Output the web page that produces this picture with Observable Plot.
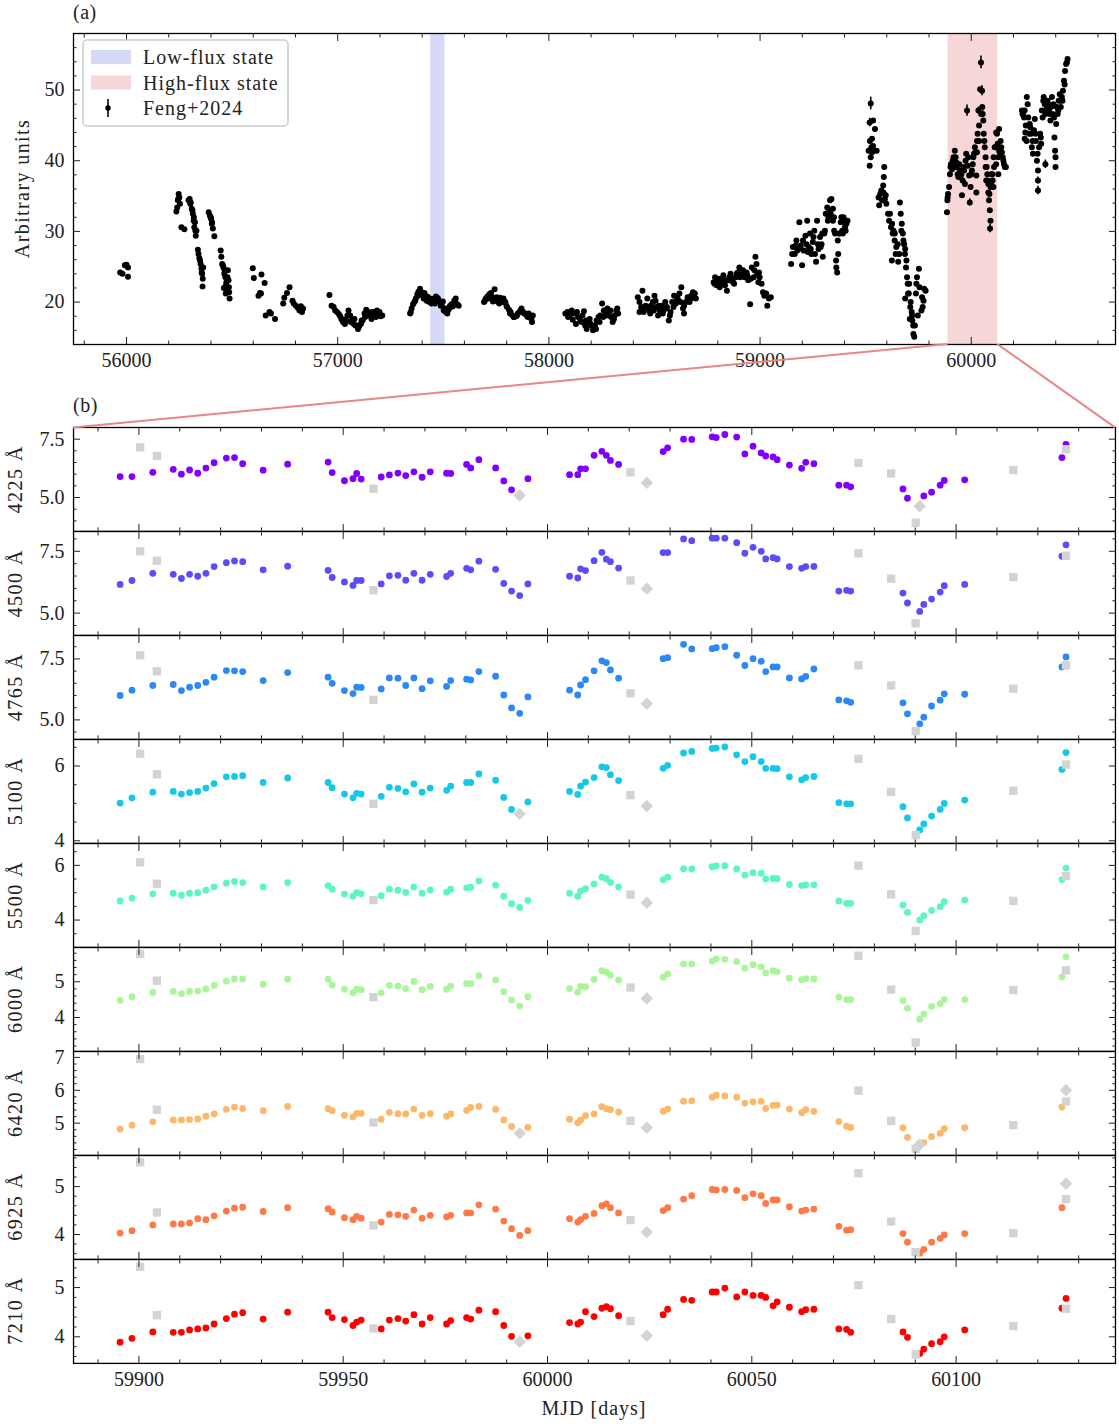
<!DOCTYPE html>
<html><head><meta charset="utf-8">
<script src="https://cdn.jsdelivr.net/npm/d3@7"></script>
<script src="https://cdn.jsdelivr.net/npm/@observablehq/plot@0.6"></script>
<style>
body{margin:0;background:#fff;}
#fig{position:relative;width:1119px;height:1424px;overflow:hidden;font-family:"Liberation Serif","DejaVu Serif",serif;}
#fig svg{position:absolute;left:0;overflow:visible;}
</style></head><body><div id="fig"></div>
<script>
// ---------------- Panel (a) data: Feng+2024 light curve [MJD, flux] ----------------
const feng = [
[55970,24.2],[55981,24.0],[55992,25.2],[56000,25.3],[56007,24.9],[56007,23.6],
[56236,32.8],[56240,33.4],[56243,34.4],[56245,34.6],[56247,35.3],[56250,34.8],[56253,33.9],[56260,30.6],[56274,30.3],
[56294,34.4],[56299,34.6],[56302,33.9],[56304,34.1],[56309,33.2],[56312,33.0],[56314,32.5],[56318,31.5],[56319,32.0],[56321,30.6],[56324,31.3],[56326,30.1],[56328,29.4],[56331,30.1],
[56338,27.4],[56341,26.8],[56345,26.2],[56348,25.9],[56351,25.4],[56355,24.7],[56356,24.2],[56358,24.0],[56360,22.2],[56361,23.3],[56363,24.9],
[56389,32.7],[56395,32.2],[56399,32.0],[56400,31.8],[56404,31.1],[56405,31.3],[56409,30.4],[56416,29.3],
[56446,27.3],[56449,26.4],[56453,25.4],[56456,25.2],[56459,24.9],[56461,22.0],[56463,24.0],[56465,24.5],[56468,23.5],[56470,21.2],[56471,22.4],[56473,22.8],[56475,21.6],[56478,23.5],[56480,24.5],[56483,23.1],[56485,22.1],[56486,21.4],[56488,20.5],
[56598,24.8],[56603,23.4],[56625,20.9],[56632,21.3],[56637,21.2],[56639,23.9],[56654,22.7],[56659,18.1],[56677,18.6],[56684,18.4],[56703,17.6],
[56742,19.8],[56747,20.6],[56760,21.3],[56772,22.1],[56786,20.2],[56792,19.8],[56802,19.5],[56811,19.2],[56819,18.8],[56826,19.4],[56831,18.6],[56836,19.1],
[56961,21.0],[56971,19.5],[56981,19.3],[56988,18.8],[56997,18.6],[57005,18.3],[57012,18.0],[57017,17.6],[57025,17.2],[57029,17.5],[57034,16.9],[57042,17.4],[57046,18.1],[57051,18.8],[57059,18.1],[57062,17.2],[57068,17.4],[57076,16.9],[57079,17.6],[57084,16.7],[57093,16.7],[57096,16.2],[57101,16.5],[57110,16.9],[57113,17.4],[57118,17.4],[57127,18.4],[57130,17.9],[57135,18.9],[57144,18.6],[57147,18.1],[57152,18.1],[57160,17.6],[57164,18.6],[57169,18.1],[57177,18.6],[57181,17.9],[57186,18.8],[57194,18.4],[57198,18.6],[57203,18.0],[57211,18.1],
[57343,18.4],[57346,18.6],[57350,19.1],[57357,19.7],[57363,20.0],[57367,20.2],[57370,20.5],[57377,21.1],[57380,20.9],[57383,21.5],[57390,21.9],[57394,21.2],[57397,21.4],[57404,20.9],[57407,20.5],[57411,21.3],[57417,20.6],[57421,20.2],[57424,20.8],[57431,20.2],[57434,20.0],[57438,20.5],[57444,19.8],[57448,20.2],[57451,20.0],[57458,20.5],[57461,19.8],[57465,20.8],[57471,20.6],[57475,20.5],[57478,20.2],[57485,20.0],[57488,19.5],[57492,19.7],[57498,20.1],[57502,18.8],[57505,19.1],[57512,18.6],[57515,19.1],[57519,18.4],[57525,18.9],[57532,19.5],[57535,19.3],[57539,19.7],[57546,19.4],[57552,20.2],[57556,20.0],[57559,20.5],[57566,19.7],[57573,19.5],
[57693,20.0],[57697,20.2],[57701,20.5],[57709,20.8],[57714,20.5],[57718,21.1],[57726,21.3],[57731,20.7],[57735,20.1],[57743,21.8],[57748,20.2],[57752,20.7],[57760,20.0],[57765,19.8],[57769,20.6],[57777,20.2],[57782,20.0],[57785,20.5],[57794,20.0],[57799,19.5],[57802,19.3],[57811,18.9],[57816,18.4],[57819,18.6],[57828,18.1],[57833,17.9],[57836,17.9],[57844,18.0],[57849,18.1],[57853,18.4],[57861,18.6],[57866,18.8],[57870,19.1],[57878,18.6],[57883,18.4],[57887,18.4],[57895,18.1],[57900,17.9],[57904,18.4],[57912,17.9],[57917,17.6],[57920,17.2],[57924,18.1],
[58078,18.4],[58088,18.6],[58091,17.9],[58098,18.1],[58108,18.8],[58113,17.5],[58118,18.4],[58128,16.9],[58133,18.6],[58138,17.9],[58149,17.4],[58155,17.2],[58159,18.1],[58166,18.7],[58172,16.7],[58176,17.4],[58179,16.2],[58186,17.2],[58193,17.6],[58198,16.9],[58201,16.7],[58209,16.0],[58218,16.7],[58223,16.2],[58226,17.4],[58235,17.9],[58240,17.2],[58243,18.1],[58252,19.8],[58257,17.9],[58260,18.8],[58269,18.4],[58274,18.1],[58277,19.1],[58285,18.6],[58291,18.8],[58294,17.9],[58302,17.2],[58308,17.6],[58311,18.1],[58319,18.8],[58324,19.1],[58328,18.4],
[58421,20.7],[58429,20.0],[58429,18.6],[58437,19.3],[58443,21.6],[58446,19.1],[58449,18.6],[58458,19.5],[58463,19.3],[58466,20.5],[58475,18.8],[58480,18.4],[58483,19.5],[58492,20.0],[58497,18.8],[58500,20.9],[58505,20.2],[58508,19.3],[58517,18.1],[58522,19.5],[58525,18.8],[58534,19.5],[58539,18.4],[58542,18.8],[58551,20.0],[58556,19.1],[58559,19.3],[58568,17.4],[58573,18.1],[58576,18.6],[58584,20.0],[58590,19.3],[58593,20.9],[58601,19.8],[58606,20.2],[58610,20.5],[58618,21.2],[58623,20.0],[58627,22.1],[58635,19.1],[58640,18.4],[58640,19.5],[58649,20.0],[58657,20.7],[58657,20.2],[58666,20.0],[58674,20.9],[58674,20.5],[58682,21.4],[58686,20.7],[58691,21.2],[58696,20.5],
[58780,22.8],[58784,22.6],[58787,23.5],[58794,22.4],[58801,22.8],[58804,23.3],[58809,22.1],[58818,23.1],[58821,22.6],[58826,23.8],[58834,22.4],[58838,23.1],[58843,21.6],[58851,23.1],[58855,23.5],[58860,24.0],[58868,23.3],[58872,22.8],[58877,22.6],[58885,23.5],[58889,24.0],[58894,24.2],[58902,24.9],[58905,23.5],[58910,23.8],[58919,24.5],[58922,24.0],[58927,23.5],[58936,24.2],[58939,23.8],[58944,23.1],[58953,19.7],[58956,23.3],[58961,24.9],[58970,23.5],[58973,24.5],[58978,26.4],[58983,25.4],[58986,24.0],[58992,22.8],[58995,24.2],[58998,23.5],[59007,22.6],[59014,21.4],[59020,20.9],[59029,21.2],[59034,19.5],[59042,20.5],[59051,20.7],
[59147,25.4],[59152,26.8],[59155,27.8],[59164,26.8],[59169,28.0],[59172,28.7],[59176,27.3],[59181,27.5],[59186,31.3],[59189,27.8],[59193,28.0],[59199,25.2],[59203,28.7],[59206,27.3],[59215,29.4],[59220,28.2],[59223,31.5],[59226,27.1],[59230,27.8],[59236,29.7],[59240,27.5],[59243,26.8],[59250,28.5],[59253,29.2],[59257,30.1],[59260,26.8],[59265,25.7],[59270,31.5],[59274,28.2],[59277,27.5],[59284,29.2],[59287,27.8],[59291,28.2],[59294,29.7],[59297,26.4],[59304,29.7],[59307,30.1],[59311,32.5],[59318,33.4],[59321,31.5],[59324,32.0],[59328,33.0],[59331,34.4],[59334,32.5],[59338,34.6],[59345,33.2],[59345,31.5],[59350,32.0],[59351,30.1],[59355,29.7],[59360,25.9],[59361,24.9],[59365,24.2],[59368,28.7],[59370,26.8],[59375,29.7],[59378,29.7],[59382,31.3],[59385,32.0],[59389,30.1],[59392,29.7],[59395,32.0],[59399,31.3],[59402,30.6],[59405,30.1],[59409,31.1],[59414,31.5],
[59514,41.4],[59519,45.4],[59519,39.3],[59520,42.8],[59524,48.1],[59524,40.5],[59527,41.9],[59530,43.1],[59530,41.2],[59535,45.7],[59535,42.1],[59537,41.4],[59544,44.5],[59552,41.4],
[59561,34.8],[59564,33.7],[59569,35.3],[59574,35.8],[59578,34.4],[59583,36.5],[59584,35.5],[59586,37.7],[59588,39.1],[59591,34.6],[59595,35.1],[59598,33.9],[59606,32.5],[59611,31.5],[59615,32.5],[59620,30.6],[59624,25.9],[59625,31.1],[59628,29.7],[59632,30.1],[59637,28.7],[59638,29.7],[59642,26.8],[59645,27.8],[59652,28.2],[59654,25.7],[59659,26.8],[59662,34.1],[59666,32.5],[59669,30.1],[59671,31.1],[59676,29.7],[59679,28.7],[59682,28.2],[59686,26.8],[59687,27.5],[59687,20.5],[59691,24.9],[59693,25.9],[59696,23.5],[59699,22.6],[59701,21.2],[59704,21.2],[59706,22.6],[59709,17.6],[59711,19.3],[59713,20.0],[59718,18.6],[59720,18.1],[59721,17.4],[59725,16.7],[59726,15.5],[59730,15.1],[59733,16.7],[59738,21.2],[59740,22.6],[59743,23.5],[59747,18.1],[59752,24.7],[59755,22.1],[59764,18.8],[59767,20.7],[59770,19.3],[59774,20.2],[59777,21.9],[59784,21.6],
[59885,32.7],[59887,34.4],[59888,34.8],[59890,35.3],[59895,36.3],[59899,38.1],[59902,39.1],[59904,39.5],[59909,38.8],[59912,40.0],[59916,40.5],[59919,39.1],[59922,41.4],[59926,40.5],[59929,39.8],[59932,39.1],[59936,38.1],[59939,37.7],[59943,39.5],[59946,38.6],[59949,37.7],[59953,38.1],[59956,35.1],[59959,37.2],[59963,39.1],[59966,38.6],[59970,36.7],[59973,40.0],[59976,41.0],[59980,47.1],[59983,39.3],[59986,40.5],[59990,37.9],[59993,34.1],[59997,36.3],[60000,38.1],[60003,38.6],[60007,39.5],[60010,40.5],[60013,41.0],[60017,41.9],[60020,41.2],[60024,37.9],[60024,35.5],[60027,41.2],[60027,42.8],[60030,43.8],[60034,47.1],[60037,45.0],[60037,42.8],[60042,50.1],[60046,53.9],[60047,46.6],[60051,49.9],[60052,47.6],[60054,46.6],[60057,45.7],[60059,43.8],[60062,42.8],[60064,41.9],[60068,40.5],[60068,39.1],[60071,37.2],[60073,39.1],[60076,38.1],[60078,37.2],[60081,35.5],[60081,36.7],[60084,34.4],[60086,35.3],[60088,33.0],[60089,30.4],[60091,31.5],[60091,36.3],[60095,37.0],[60096,38.1],[60100,38.1],[60101,37.2],[60105,36.3],[60106,40.5],[60108,39.1],[60111,41.9],[60115,41.9],[60118,44.0],[60118,39.5],[60122,43.8],[60125,42.4],[60128,40.5],[60128,38.1],[60132,44.5],[60132,41.4],[60135,41.2],[60139,42.8],[60142,41.9],[60145,41.2],[60149,40.5],[60152,40.0],[60155,39.5],[60159,39.1],[60164,39.1],
[60240,47.1],[60243,46.6],[60247,46.4],[60250,46.1],[60253,47.1],[60253,43.1],[60256,44.0],[60258,45.0],[60262,42.8],[60263,49.0],[60267,48.0],[60270,46.1],[60274,43.8],[60277,45.2],[60280,44.7],[60284,43.8],[60287,41.9],[60290,42.8],[60292,41.0],[60297,44.3],[60301,45.9],[60304,43.8],[60306,42.8],[60311,40.0],[60314,41.0],[60316,38.6],[60316,37.2],[60316,35.8],[60321,41.9],[60326,43.8],[60329,43.3],[60331,42.4],[60334,47.1],[60338,46.1],[60341,48.5],[60343,49.0],[60348,48.0],[60351,39.5],[60351,46.6],[60355,47.1],[60358,47.6],[60361,48.5],[60365,48.0],[60368,47.1],[60372,46.6],[60375,45.7],[60378,47.6],[60382,49.0],[60385,46.6],[60389,48.0],[60392,46.1],[60394,43.3],[60397,41.4],[60399,39.1],[60399,40.5],[60402,45.2],[60405,47.6],[60409,46.6],[60412,47.1],[60414,48.5],[60419,49.4],[60422,48.5],[60424,47.6],[60429,49.0],[60432,48.5],[60434,49.9],[60439,51.3],[60442,50.8],[60444,52.7],[60449,53.7],[60453,53.9],[60456,54.4]
];
// points with visible error bars [MJD, flux, error]
const fengErr = [[59524,48.1,0.9],[59519,45.4,0.6],[59980,47.1,0.8],[60046,53.9,0.9],[60051,49.9,0.7],[60054,46.6,0.5],[60034,47.1,0.5],[59970,36.7,0.5],[59993,34.1,0.5],[60089,30.4,0.6],[60316,35.8,0.6],[60316,37.2,0.5],[60351,39.5,0.6]];
const lowFlux = [57440, 57508];
const highFlux = [59890, 60125];

// ---------------- Panel (b) data ----------------
const mjd = [59895.4,59898.3,59903.4,59908.4,59910.4,59912.4,59914.4,59916.4,59918.4,59921.4,
59923.4,59925.4,59930.4,59936.4,59946.3,59947.3,59950.3,59952.4,59953.3,59954.4,
59959.3,59961.3,59963.4,59965.3,59967.3,59969.3,59971.3,59975.3,59976.3,59980.2,
59981.2,59983.2,59987.3,59989.3,59991.2,59993.2,59995.2,60005.4,60007.4,60008.1,
60009.3,60011.4,60013.3,60014.4,60015.4,60017.4,60028.3,60029.4,60033.3,60035.3,
60040.3,60041.3,60043.4,60046.3,60048.3,60050.3,60052.3,60053.4,60055.2,60056.2,
60059.2,60062.2,60063.2,60065.2,60071.3,60073.2,60074.2,60087.0,60088.1,60091.1,
60092.1,60094.0,60096.1,60097.1,60102.1,60125.9,60126.9];
const f4225 = [5.90,5.90,6.08,6.21,6.00,6.18,6.04,6.26,6.49,6.69,
6.71,6.45,6.17,6.43,6.52,6.07,5.72,5.81,6.03,5.79,
5.88,5.97,6.05,5.94,6.10,5.87,6.10,6.04,6.03,6.42,
6.27,6.62,6.27,5.71,5.33,null,5.81,5.98,5.98,6.23,
6.23,6.81,6.98,6.81,6.59,6.42,6.97,7.13,7.50,7.49,
7.60,7.57,7.70,7.59,6.87,7.20,6.91,6.78,6.74,6.62,
6.39,6.25,6.51,6.45,5.53,5.53,5.46,5.37,4.97,null,
5.07,5.23,5.53,5.73,5.76,6.71,7.28];
const f4500 = [6.16,6.32,6.61,6.57,6.40,6.57,6.49,6.61,6.88,7.04,
7.11,7.08,6.75,6.90,6.73,6.44,6.26,6.12,6.32,6.32,
6.18,6.51,6.53,6.33,6.61,6.33,6.57,6.48,6.61,6.81,
6.75,7.10,6.77,6.20,5.89,5.71,6.18,6.49,6.42,6.79,
6.72,7.12,7.46,7.18,7.08,6.82,7.45,7.45,8.00,7.93,
8.03,8.03,8.03,7.85,7.42,7.66,7.50,7.19,7.24,7.19,
6.88,6.81,6.88,6.89,5.89,5.92,5.89,5.81,5.41,5.07,
5.35,5.57,5.85,6.11,6.16,7.30,7.76];
const f4765 = [6.00,6.22,6.41,6.45,6.20,6.34,6.41,6.54,6.75,7.02,
7.01,6.98,6.61,6.94,6.75,6.50,6.20,6.08,6.34,6.33,
6.27,6.72,6.71,6.41,6.72,6.28,6.60,6.37,6.61,6.67,
6.64,6.98,6.79,6.02,5.49,5.27,5.94,6.22,6.02,6.43,
6.65,7.01,7.42,7.35,7.05,6.71,7.51,7.55,8.10,7.91,
7.92,7.96,8.00,7.65,7.23,7.51,7.40,6.98,7.17,7.17,
6.72,6.68,6.78,7.09,5.82,5.78,5.72,5.70,5.25,4.84,
5.11,5.57,5.81,6.07,6.05,7.17,7.58];
const f5100 = [5.01,5.15,5.30,5.32,5.25,5.29,5.32,5.41,5.53,5.71,
5.72,5.74,5.56,5.68,5.56,5.42,5.25,5.15,5.27,5.25,
5.19,5.43,5.40,5.31,5.52,5.30,5.41,5.35,5.46,5.56,
5.56,5.79,5.62,5.16,4.84,null,5.04,5.32,5.24,5.46,
5.57,5.69,5.98,5.96,5.77,5.61,5.94,6.02,6.35,6.39,
6.47,6.48,6.51,6.30,6.12,6.25,6.12,5.94,5.94,5.93,
5.71,5.63,5.69,5.72,5.02,4.99,4.99,4.91,4.61,4.29,
4.45,4.66,4.84,5.00,5.09,5.91,6.36];
const f5500 = [4.70,4.80,4.96,4.98,4.91,4.98,5.00,5.09,5.21,5.35,
5.41,5.37,5.21,5.37,5.26,5.13,4.95,4.87,5.00,4.96,
4.89,5.13,5.09,5.01,5.21,4.98,5.10,5.02,5.13,5.18,
5.20,5.43,5.28,4.87,4.60,4.46,4.72,4.98,4.87,5.06,
5.15,5.32,5.57,5.51,5.38,5.21,5.48,5.57,5.88,5.87,
5.95,5.98,5.99,5.87,5.65,5.73,5.71,5.50,5.52,5.51,
5.30,5.26,5.29,5.29,4.70,4.61,4.61,4.55,4.28,4.00,
4.16,4.35,4.49,4.67,4.73,5.48,5.90];
const f6000 = [4.48,4.58,4.70,4.73,4.67,4.73,4.74,4.80,4.90,5.02,
5.08,5.08,4.93,5.07,5.07,4.91,4.79,4.69,4.79,4.78,
4.69,4.90,4.88,4.81,5.01,4.78,4.87,4.79,4.88,4.95,
4.95,5.17,5.05,4.72,4.49,4.32,4.58,4.81,4.71,4.87,
4.86,5.07,5.31,5.27,5.18,5.05,5.13,5.22,5.50,5.50,
5.58,5.64,5.63,5.57,5.38,5.48,5.42,5.25,5.31,5.28,
5.10,5.06,5.09,5.08,4.57,4.50,4.50,4.47,4.26,3.95,
4.10,4.31,4.39,4.50,4.50,5.14,5.70];
const f6420 = [4.82,4.94,5.04,5.10,5.10,5.11,5.13,5.21,5.28,5.42,
5.49,5.45,5.38,5.51,5.44,5.38,5.24,5.19,5.30,5.30,
5.12,5.33,5.29,5.28,5.43,5.24,5.29,5.21,5.28,5.39,
5.48,5.51,5.42,5.10,4.90,null,4.87,5.12,5.01,5.09,
5.23,5.28,5.50,5.44,5.41,5.34,5.36,5.43,5.67,5.68,
5.79,5.85,5.83,5.79,5.61,5.65,5.66,5.45,5.54,5.55,
5.43,5.32,5.41,5.36,5.05,4.91,4.87,4.86,4.57,null,
4.41,4.59,4.69,4.83,4.86,5.49,null];
const f6925 = [4.03,4.08,4.20,4.22,4.22,4.24,4.33,4.31,4.39,4.49,
4.55,4.57,4.48,4.56,4.54,4.47,4.35,4.31,4.38,4.34,
4.26,4.42,4.41,4.38,4.51,4.34,4.40,4.37,4.40,4.45,
4.45,4.62,4.53,4.28,4.12,3.98,4.08,4.33,4.26,4.31,
4.38,4.44,4.60,4.64,4.56,4.45,4.50,4.56,4.74,4.81,
4.94,4.93,4.94,4.92,4.77,4.85,4.81,4.65,4.72,4.72,
4.58,4.49,4.51,4.53,4.17,4.09,4.10,4.02,3.84,3.61,
3.69,3.84,3.92,3.99,4.02,4.56,null];
const f7210 = [3.89,3.97,4.10,4.09,4.09,4.14,4.16,4.18,4.26,4.37,
4.46,4.49,4.36,4.50,4.50,4.39,4.35,4.23,4.30,4.34,
4.16,4.34,4.37,4.32,4.45,4.26,4.39,4.26,4.33,4.39,
4.36,4.54,4.51,4.23,4.01,null,4.02,4.29,4.26,4.30,
4.51,4.41,4.58,4.61,4.57,4.43,4.45,4.56,4.76,4.74,
4.91,4.91,4.99,4.81,4.91,4.84,4.84,4.80,4.63,4.71,
4.60,4.51,4.55,4.56,4.16,4.15,4.09,4.10,3.99,3.66,
3.75,3.86,3.90,4.00,4.14,4.58,4.78];
// grey squares (other epochs)
const sqMjd = [59900.3,59904.4,59957.4,60020.3,60076.1,60084.1,60090.1,60114.0,60126.9];
const s4225 = [7.15,6.78,5.38,6.08,6.48,6.03,3.92,6.18,7.07];
const s4500 = [7.50,7.12,5.93,6.32,7.42,6.39,4.59,6.46,7.32];
const s4765 = [7.65,6.99,5.82,6.09,7.24,6.41,4.54,6.28,7.24];
const s5100 = [6.33,5.78,4.99,5.22,6.19,5.31,4.15,5.34,6.04];
const s5500 = [6.11,5.33,4.73,4.93,5.99,4.94,3.60,4.70,5.61];
const s6000 = [5.78,5.03,4.57,4.84,5.73,4.78,3.30,4.77,5.32];
const s6420 = [6.95,5.41,5.02,5.07,5.99,5.07,4.22,4.94,5.66];
const s6925 = [5.51,4.46,4.19,4.30,5.28,4.27,3.63,4.03,4.74];
const s7210 = [5.42,4.44,4.17,4.32,5.05,4.36,3.64,4.22,4.57];
// grey diamonds
const dmMjd = [59993.2,60024.3,60091.1,60126.9];
const d4225 = [5.09,5.63,4.63,null];
const d4500 = [null,5.99,null,null];
const d4765 = [null,5.66,null,null];
const d5100 = [4.72,4.93,null,null];
const d5500 = [null,4.63,null,null];
const d6000 = [null,4.53,null,null];
const d6420 = [4.69,4.86,4.35,6.00];
const d6925 = [null,4.05,null,5.06];
const d7210 = [3.90,4.02,null,null];

const bandLabels = ["4225 Å","4500 Å","4765 Å","5100 Å","5500 Å","6000 Å","6420 Å","6925 Å","7210 Å"];
const bandColors = ["#8000ff","#5a4cf8","#2b88f5","#14c8e8","#5cf5c6","#a8f59a","#fab868","#ff7846","#ff0000"];
const bandFlux = [f4225,f4500,f4765,f5100,f5500,f6000,f6420,f6925,f7210];
const bandSq = [s4225,s4500,s4765,s5100,s5500,s6000,s6420,s6925,s7210];
const bandDm = [d4225,d4500,d4765,d5100,d5500,d6000,d6420,d6925,d7210];
const bandYDomain = [[3.55,8.0],[4.1,8.3],[4.2,8.46],[3.93,6.71],[3.0,6.8],[3.05,5.96],[4.02,7.18],[3.48,5.65],[3.46,5.57]];
const bandYMajor = [[5,7.5],[5,7.5],[5,7.5],[4,6],[4,6],[4,5],[5,6,7],[4,5],[4,5]];
const bandYMinorStep = [0.5,0.5,0.5,0.5,0.5,0.2,0.2,0.2,0.2];

// ---------------- layout ----------------
const W = 1119, L = 73, R = 1115;
const A_TOP = 33, A_BOT = 344, A_H = 380;
const B_TOP = 427.4, B_H = 103.9;
const FONT = '"Liberation Serif","DejaVu Serif",serif';
const FS = 20;
const fig = document.getElementById("fig");

function steps(a, b, s) { const o = []; for (let k = Math.ceil(a / s - 1e-9); k * s <= b + 1e-9; k++) o.push(+(k * s).toFixed(6)); return o; }
const blank = () => "";

function axesMarks(xd, yd, xMajor, xMinorStep, yMajor, yMinorStep, xFmt, yFmt) {
  const xMin = steps(xd[0], xd[1], xMinorStep).filter(v => !xMajor.includes(v));
  const yMin = steps(yd[0], yd[1], yMinorStep).filter(v => !yMajor.some(m => Math.abs(m - v) < 1e-6));
  const xM = xMajor.filter(v => v >= xd[0] && v <= xd[1]);
  const yM = yMajor.filter(v => v >= yd[0] && v <= yd[1]);
  return [
    Plot.axisX({ticks: xMin, anchor: "bottom", tickSize: -3.5, tickFormat: blank, label: null}),
    Plot.axisX({ticks: xMin, anchor: "top", tickSize: -3.5, tickFormat: blank, label: null}),
    Plot.axisX({ticks: xM, anchor: "bottom", tickSize: -7, tickPadding: 15, tickFormat: xFmt || blank, label: null}),
    Plot.axisX({ticks: xM, anchor: "top", tickSize: -7, tickFormat: blank, label: null}),
    Plot.axisY({ticks: yMin, anchor: "left", tickSize: -3.5, tickFormat: blank, label: null}),
    Plot.axisY({ticks: yMin, anchor: "right", tickSize: -3.5, tickFormat: blank, label: null}),
    Plot.axisY({ticks: yM, anchor: "left", tickSize: -7, tickPadding: 16, tickFormat: yFmt, label: null}),
    Plot.axisY({ticks: yM, anchor: "right", tickSize: -7, tickFormat: blank, label: null}),
    Plot.frame({stroke: "#000", strokeWidth: 1.3})
  ];
}
const style = {fontFamily: FONT, fontSize: FS + "px", background: "transparent", overflow: "visible", color: "#222"};

// ---------------- Panel (a) ----------------
const xaDom = [55749, 60683], yaDom = [14, 58];
const plotA = Plot.plot({
  width: W, height: A_H, marginLeft: L, marginRight: W - R, marginTop: A_TOP, marginBottom: A_H - A_BOT,
  x: {domain: xaDom}, y: {domain: yaDom}, style,
  marks: [
    Plot.rect([lowFlux], {x1: d => d[0], x2: d => d[1], y1: yaDom[0], y2: yaDom[1], fill: "#d6daf6"}),
    Plot.rect([highFlux], {x1: d => d[0], x2: d => d[1], y1: yaDom[0], y2: yaDom[1], fill: "#f6d6d7"}),
    Plot.ruleX(fengErr, {x: d => d[0], y1: d => d[1] - d[2], y2: d => d[1] + d[2], stroke: "#000", strokeWidth: 1.6}),
    Plot.dot(feng, {x: d => d[0], y: d => d[1], r: 3, fill: "#000", stroke: null}),
    ...axesMarks(xaDom, yaDom, [56000,57000,58000,59000,60000], 200, [20,30,40,50], 2, d => String(d), d => String(d))
  ]
});
plotA.style.top = "0px";
fig.appendChild(plotA);

// ---------------- Panel (b) ----------------
const xbDom = [59884, 60139];
bandLabels.forEach((lab, i) => {
  const last = i === bandLabels.length - 1;
  const mb = last ? 62 : 0;
  const yd = bandYDomain[i];
  const fmt = i < 3 ? d3.format(".1f") : d3.format("d");
  const pts = mjd.map((m, j) => ({m, v: bandFlux[i][j]})).filter(d => d.v != null);
  const sq = sqMjd.map((m, j) => ({m, v: bandSq[i][j]})).filter(d => d.v != null);
  const dm = dmMjd.map((m, j) => ({m, v: bandDm[i][j]})).filter(d => d.v != null);
  const p = Plot.plot({
    width: W, height: B_H + mb, marginLeft: L, marginRight: W - R, marginTop: 0, marginBottom: mb,
    x: {domain: xbDom}, y: {domain: yd}, style,
    marks: [
      Plot.dot(pts, {x: "m", y: "v", r: 3.4, fill: bandColors[i], stroke: null}),
      Plot.dot(sq, {x: "m", y: "v", r: 4.7, symbol: "square", fill: "#d3d3d3", stroke: null}),
      Plot.dot(dm, {x: "m", y: "v", r: 5.6, symbol: "diamond2", fill: "#d3d3d3", stroke: null}),
      ...axesMarks(xbDom, yd, [59900,59950,60000,60050,60100], 10, bandYMajor[i], bandYMinorStep[i], last ? (d => String(d)) : null, fmt)
    ]
  });
  p.style.top = (B_TOP + i * B_H) + "px";
  fig.appendChild(p);
});

// ---------------- overlay: zoom lines, legend, labels ----------------
const xa = plotA.scale("x");
const ov = d3.create("svg").attr("width", W).attr("height", 1424)
  .style("top", "0px").style("pointer-events", "none")
  .attr("font-family", FONT).attr("font-size", FS).attr("fill", "#222");
ov.append("line").attr("x1", xa.apply(highFlux[0])).attr("y1", A_BOT).attr("x2", L).attr("y2", B_TOP)
  .attr("stroke", "#ea8686").attr("stroke-width", 2);
ov.append("line").attr("x1", xa.apply(highFlux[1])).attr("y1", A_BOT).attr("x2", R).attr("y2", B_TOP)
  .attr("stroke", "#ea8686").attr("stroke-width", 2);
// legend
const lg = ov.append("g");
lg.append("rect").attr("x", 83).attr("y", 40).attr("width", 205).attr("height", 86).attr("rx", 4)
  .attr("fill", "rgba(255,255,255,0.85)").attr("stroke", "#cccccc").attr("stroke-width", 1.5);
const legendItems = [["Low-flux state", "#d6daf6"], ["High-flux state", "#f6d6d7"], ["Feng+2024", null]];
legendItems.forEach(([t, c], k) => {
  const cy = 57 + k * 25.5;
  if (c) lg.append("rect").attr("x", 91).attr("y", cy - 7).attr("width", 40).attr("height", 14).attr("fill", c);
  else {
    lg.append("line").attr("x1", 108).attr("x2", 108).attr("y1", cy - 9).attr("y2", cy + 9).attr("stroke", "#000").attr("stroke-width", 1.6);
    lg.append("circle").attr("cx", 108).attr("cy", cy).attr("r", 2.7).attr("fill", "#000");
  }
  lg.append("text").attr("x", 143).attr("y", cy).attr("dy", "0.35em").attr("letter-spacing", "1px").text(t);
});
ov.append("text").attr("x", 73).attr("y", 19).attr("letter-spacing", "0.5px").text("(a)");
ov.append("text").attr("x", 73).attr("y", 412).attr("letter-spacing", "0.5px").text("(b)");
ov.append("text").attr("transform", `translate(22,${(A_TOP + A_BOT) / 2}) rotate(-90)`)
  .attr("text-anchor", "middle").attr("dy", "0.35em").attr("letter-spacing", "1.4px").text("Arbitrary units");
bandLabels.forEach((lab, i) => {
  ov.append("text").attr("transform", `translate(15,${B_TOP + (i + 0.5) * B_H}) rotate(-90)`)
    .attr("text-anchor", "middle").attr("dy", "0.35em").attr("letter-spacing", "1.5px").text(lab);
});
ov.append("text").attr("x", (L + R) / 2).attr("y", 1415).attr("text-anchor", "middle").attr("letter-spacing", "1px").text("MJD [days]");
fig.appendChild(ov.node());
</script>
</body></html>
